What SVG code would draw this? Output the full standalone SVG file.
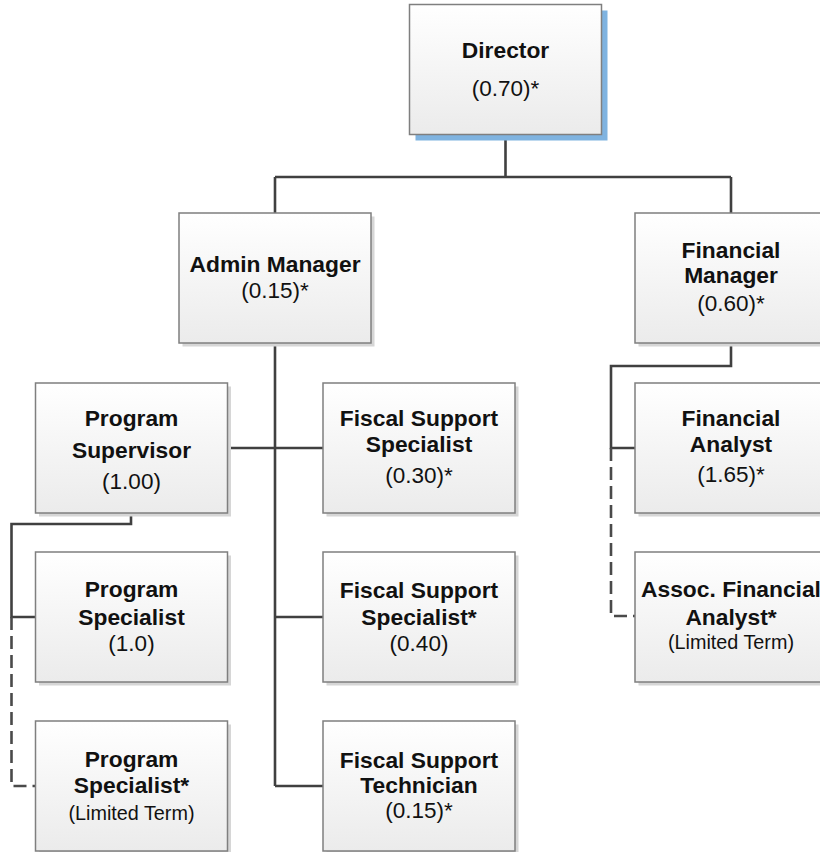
<svg xmlns="http://www.w3.org/2000/svg" width="820" height="852" viewBox="0 0 820 852">
<defs>
<linearGradient id="boxfill" x1="0" y1="0" x2="0" y2="1">
<stop offset="0" stop-color="#ffffff"/>
<stop offset="1" stop-color="#ebebeb"/>
</linearGradient>
</defs>
<style>
.box{fill:url(#boxfill);stroke:#7f7f7f;stroke-width:1.5}
.shadow{fill:#d6d6d6}
.shadowblue{fill:#7fb3e0}
.t{font-family:"Liberation Sans",Arial,sans-serif;font-weight:bold;font-size:22.8px;fill:#111;text-anchor:middle}
.n{font-family:"Liberation Sans",Arial,sans-serif;font-size:22.5px;fill:#111;text-anchor:middle}
.s{font-family:"Liberation Sans",Arial,sans-serif;font-size:19.8px;fill:#111;text-anchor:middle}
.c{fill:none;stroke:#404040;stroke-width:2.6}
.d{fill:none;stroke:#4a4a4a;stroke-width:2.6;stroke-dasharray:13 6}
</style>
<rect width="820" height="852" fill="#ffffff"/>
<g id="connectors">
<path class="c" d="M505.5 135 V177 M275 177 H731 M275 177 V213 M731 177 V213"/>
<path class="c" d="M275 343 V786 M228 448 H323 M275 617 H323 M275 786 H323"/>
<path class="c" d="M131 513 V524 H11.5 V617 H35.5"/>
<path class="d" d="M11.5 617 V786 H35.5"/>
<path class="c" d="M731 343 V366 H611 V448 H635"/>
<path class="d" d="M611 448 V616 H635"/>
</g>
<g id="director">
<rect class="shadowblue" x="415.5" y="10.5" width="192" height="130"/>
<rect class="box" x="409.5" y="4.5" width="192" height="130"/>
<text class="t" x="505.5" y="58">Director</text>
<text class="n" x="505.5" y="96">(0.70)*</text>
</g>
<g id="admin-manager">
<rect class="shadow" x="182.5" y="216.5" width="192" height="130"/>
<rect class="box" x="179" y="213" width="192" height="130"/>
<text class="t" x="275" y="272">Admin Manager</text>
<text class="n" x="275" y="298">(0.15)*</text>
</g>
<g id="financial-manager">
<rect class="shadow" x="638.5" y="216.5" width="192" height="130"/>
<rect class="box" x="635" y="213" width="192" height="130"/>
<text class="t" x="731" y="258">Financial</text>
<text class="t" x="731" y="283">Manager</text>
<text class="n" x="731" y="311">(0.60)*</text>
</g>
<g id="program-supervisor">
<rect class="shadow" x="39" y="386.5" width="192" height="130"/>
<rect class="box" x="35.5" y="383" width="192" height="130"/>
<text class="t" x="131.5" y="426">Program</text>
<text class="t" x="131.5" y="458">Supervisor</text>
<text class="n" x="131.5" y="489">(1.00)</text>
</g>
<g id="fiscal-support-specialist">
<rect class="shadow" x="326.5" y="386.5" width="192" height="130"/>
<rect class="box" x="323" y="383" width="192" height="130"/>
<text class="t" x="419" y="426">Fiscal Support</text>
<text class="t" x="419" y="452">Specialist</text>
<text class="n" x="419" y="483">(0.30)*</text>
</g>
<g id="financial-analyst">
<rect class="shadow" x="638.5" y="386.5" width="192" height="130"/>
<rect class="box" x="635" y="383" width="192" height="130"/>
<text class="t" x="731" y="426">Financial</text>
<text class="t" x="731" y="452">Analyst</text>
<text class="n" x="731" y="482">(1.65)*</text>
</g>
<g id="program-specialist">
<rect class="shadow" x="39" y="555.5" width="192" height="130"/>
<rect class="box" x="35.5" y="552" width="192" height="130"/>
<text class="t" x="131.5" y="597">Program</text>
<text class="t" x="131.5" y="625">Specialist</text>
<text class="n" x="131.5" y="651">(1.0)</text>
</g>
<g id="fiscal-support-specialist-2">
<rect class="shadow" x="326.5" y="555.5" width="192" height="130"/>
<rect class="box" x="323" y="552" width="192" height="130"/>
<text class="t" x="419" y="598">Fiscal Support</text>
<text class="t" x="419" y="625">Specialist*</text>
<text class="n" x="419" y="651">(0.40)</text>
</g>
<g id="assoc-financial-analyst">
<rect class="shadow" x="638.5" y="555.5" width="192" height="130"/>
<rect class="box" x="635" y="552" width="192" height="130"/>
<text class="t" x="731" y="597">Assoc. Financial</text>
<text class="t" x="731" y="625">Analyst*</text>
<text class="s" x="731" y="649">(Limited Term)</text>
</g>
<g id="program-specialist-lt">
<rect class="shadow" x="39" y="724.5" width="192" height="130"/>
<rect class="box" x="35.5" y="721" width="192" height="130"/>
<text class="t" x="131.5" y="767">Program</text>
<text class="t" x="131.5" y="793">Specialist*</text>
<text class="s" x="131.5" y="820">(Limited Term)</text>
</g>
<g id="fiscal-support-technician">
<rect class="shadow" x="326.5" y="724.5" width="192" height="130"/>
<rect class="box" x="323" y="721" width="192" height="130"/>
<text class="t" x="419" y="768">Fiscal Support</text>
<text class="t" x="419" y="793">Technician</text>
<text class="n" x="419" y="818">(0.15)*</text>
</g>
</svg>
